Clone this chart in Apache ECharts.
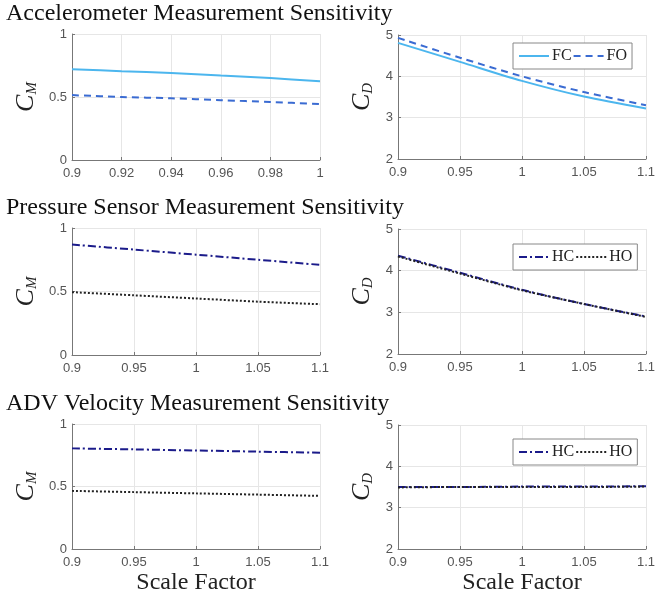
<!DOCTYPE html>
<html>
<head>
<meta charset="utf-8">
<script src="https://cdn.jsdelivr.net/npm/echarts@6/dist/echarts.min.js"></script>
<style>
  html, body { margin: 0; padding: 0; background: #fff; }
  #chart-container { width: 671px; height: 599px; }
</style>
</head>
<body>
<div id="chart-container"></div>
<script>
var dom = document.getElementById('chart-container');
var myChart = echarts.init(dom);

// scale factors
var xFine = [0.9, 0.92, 0.94, 0.96, 0.98, 1.0];
var xCoarse = [0.9, 0.95, 1.0, 1.05, 1.1];

// accelerometer
var accFC_CM = [0.72, 0.705, 0.69, 0.67, 0.65, 0.625];
var accFO_CM = [0.515, 0.50, 0.49, 0.475, 0.46, 0.445];
var accFC_CD = [4.81, 4.35, 3.89, 3.51, 3.22];
var accFO_CD = [4.93, 4.45, 4.0, 3.62, 3.30];

// pressure sensor
var presHC_CM = [0.87, 0.83, 0.79, 0.75, 0.71];
var presHO_CM = [0.495, 0.47, 0.445, 0.42, 0.40];
var presHC_CD = [4.36, 3.95, 3.54, 3.2, 2.9];
var presHO_CD = [4.34, 3.93, 3.53, 3.2, 2.89];

// ADV velocity
var advHC_CM = [0.805, 0.797, 0.788, 0.779, 0.77];
var advHO_CM = [0.465, 0.455, 0.445, 0.435, 0.425];
var advHC_CD = [3.5, 3.5, 3.51, 3.51, 3.52];
var advHO_CD = [3.49, 3.5, 3.5, 3.5, 3.51];

var titles = [
  'Accelerometer Measurement Sensitivity',
  'Pressure Sensor Measurement Sensitivity',
  'ADV Velocity Measurement Sensitivity'
];

var serif = 'Liberation Serif';
var tickFont = { color: '#555', fontSize: 13, fontFamily: 'Liberation Sans' };

function pairs(xs, ys) {
  return xs.map(function (x, i) { return [x, ys[i]]; });
}

var grids = [
  { left: 72, top: 34, width: 248, height: 126 },
  { left: 398, top: 35, width: 248, height: 124 },
  { left: 72, top: 228, width: 248, height: 127 },
  { left: 398, top: 229, width: 248, height: 125 },
  { left: 72, top: 424, width: 248, height: 125 },
  { left: 398, top: 425, width: 248, height: 124 }
];

var xAxes = [], yAxes = [];
grids.forEach(function (g, i) {
  var right = i % 2 === 1;
  var bottom = i >= 4;
  var fine = i === 0;
  xAxes.push({
    type: 'value', gridIndex: i,
    min: 0.9, max: fine ? 1.0 : 1.1, interval: fine ? 0.02 : 0.05,
    axisLine: { lineStyle: { color: '#777' } },
    axisTick: { inside: true, length: 3, lineStyle: { color: '#777' } },
    axisLabel: Object.assign({ margin: 7 }, tickFont),
    splitLine: { lineStyle: { color: '#e6e6e6' } },
    name: bottom ? 'Scale Factor' : '',
    nameLocation: 'middle', nameGap: 22,
    nameTextStyle: { fontFamily: serif, fontSize: 24, color: '#222' }
  });
  yAxes.push({
    type: 'value', gridIndex: i,
    min: right ? 2 : 0, max: right ? 5 : 1, interval: right ? 1 : 0.5,
    axisLine: { show: true, lineStyle: { color: '#777' } },
    axisTick: { show: true, inside: true, length: 3, lineStyle: { color: '#777' } },
    axisLabel: Object.assign({ margin: 5 }, tickFont),
    splitLine: { lineStyle: { color: '#e6e6e6' } },
    name: right ? '{c|C}{s|D}' : '{c|C}{s|M}',
    nameLocation: 'middle', nameGap: right ? 22 : 32,
    nameTextStyle: {
      rich: {
        c: { fontFamily: serif, fontStyle: 'italic', fontSize: 26, color: '#222' },
        s: { fontFamily: serif, fontStyle: 'italic', fontSize: 15, color: '#222', padding: [12, 0, 0, 0] }
      }
    }
  });
});

var colFC = '#4cb6ee', colFO = '#3a6bd2', colHC = '#1b1b8a', colHO = '#222';

function line(name, idx, xs, ys, color, type, width) {
  return {
    name: name, type: 'line', xAxisIndex: idx, yAxisIndex: idx,
    data: pairs(xs, ys), smooth: 0.3, symbol: 'none',
    lineStyle: { color: color, type: type, width: width || 2 },
    itemStyle: { color: color }
  };
}

var dashDot = [8, 3, 2, 3];

var series = [
  line('FC', 0, xFine, accFC_CM, colFC, 'solid'),
  line('FO', 0, xFine, accFO_CM, colFO, [7, 5]),
  line('FC', 1, xCoarse, accFC_CD, colFC, 'solid'),
  line('FO', 1, xCoarse, accFO_CD, colFO, [7, 5]),
  line('HC', 2, xCoarse, presHC_CM, colHC, dashDot),
  line('HO', 2, xCoarse, presHO_CM, colHO, [2, 2]),
  line('HC', 3, xCoarse, presHC_CD, colHC, dashDot),
  line('HO', 3, xCoarse, presHO_CD, colHO, [2, 2]),
  line('HC', 4, xCoarse, advHC_CM, colHC, dashDot),
  line('HO', 4, xCoarse, advHO_CM, colHO, [2, 2]),
  line('HC', 5, xCoarse, advHC_CD, colHC, dashDot),
  line('HO', 5, xCoarse, advHO_CD, colHO, [2, 2])
];

function legendAt(top, names) {
  return {
    data: names, left: 513, top: top, orient: 'horizontal',
    itemWidth: 30, itemHeight: 10, itemGap: 1,
    padding: [5, 5, 5, 5],
    itemStyle: { opacity: 0 },
    backgroundColor: '#fff', borderColor: '#888', borderWidth: 1, borderRadius: 0,
    textStyle: { fontFamily: serif, fontSize: 16, color: '#222', padding: [0, 0, 0, -2] }
  };
}

var option = {
  animation: false,
  title: titles.map(function (t, i) {
    return {
      text: t, left: 6, top: [2, 196, 392][i], padding: 0,
      textStyle: { fontFamily: serif, fontSize: 24, fontWeight: 'normal', color: '#111' }
    };
  }),
  legend: [
    legendAt(43, ['FC', 'FO']),
    legendAt(244, ['HC', 'HO']),
    legendAt(439, ['HC', 'HO'])
  ],
  grid: grids,
  xAxis: xAxes,
  yAxis: yAxes,
  series: series
};

myChart.setOption(option);
</script>
</body>
</html>
